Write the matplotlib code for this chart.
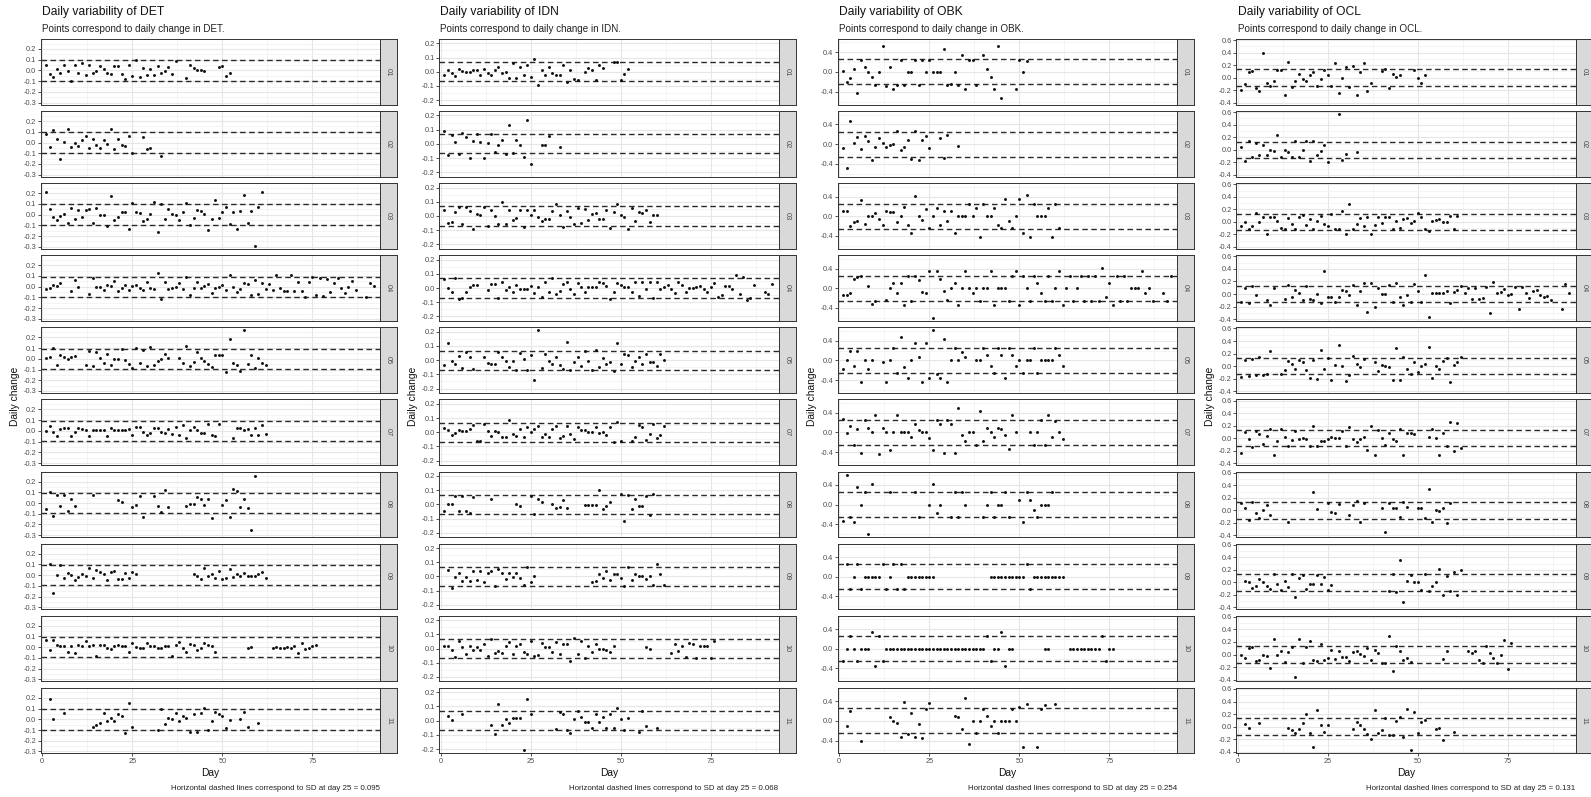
import numpy as np
import matplotlib
matplotlib.use("Agg")
import matplotlib.pyplot as plt

plt.rcParams['font.family'] = ['Liberation Sans', 'DejaVu Sans']

# sites (one facet column each) and the SD at day 25 used for the dashed lines
sites = ["DET", "IDN", "OBK", "OCL"]
sd_day25 = [0.095, 0.068, 0.254, 0.131]
subjects = ["01", "02", "03", "04", "05", "07", "08", "09", "10", "11"]

y_ticks = [
    [-0.3, -0.2, -0.1, 0.0, 0.1, 0.2],
    [-0.2, -0.1, 0.0, 0.1, 0.2],
    [-0.4, 0.0, 0.4],
    [-0.4, -0.2, 0.0, 0.2, 0.4, 0.6],
]
x_ticks = [0, 25, 50, 75]

# daily change, in hundredths
# each segment is "first_day: value value ..." for consecutive days
det_change = [
    "1: 5.5 -3 -6 1.5 -2 5 -0.5 -10 5 -2 6.5 -4.5 5.5 -2 -1 4.5 1.5 -2 -3.5 4.5 4 -3 -8 5.5 -5.5 10 -6 2 -4.5 1.5 -4.5 4 -2 -1 3 -3 9 | 40: -7.5 5 2 0 0 -0.5 | 49: 3 4 -5.5 -2",
    "1: 8 -4.5 12 3.5 -15 0.5 13 -4 0 -3 2.5 6.5 -5.5 3 -2 -5 2 -1 13 -6 3 -2.5 -3 6 -10 | 28: 5.5 -6 -5 | 33: -13",
    "1: 21 5.5 -2 -5 -1.5 1 -7.5 6 -4 4 -2 4 5 -8 6.5 0 0 -11 17 -5 -2 2 2 -13 11 2.5 1.5 -6 -4.5 1 11.5 -16 9.5 -4.5 5 1 0 -5 2.5 10.5 -10 -3.5 4 3 1 -14 -4 13.5 -3.5 2.5 7.5 -8.5 2 -13 3 18 -8 3.5 -29 7 21",
    "1: -2.5 -1 2 1 3.5 | 8: -4 6 0 | 13: -7 8 0 0 -3 2 0.5 5 -4 -1 1.5 -3.5 1 2 -1 -3.5 4.5 -1.5 -2 13 -11 4.5 -2.5 -1 -0.5 3 -2 9.5 -8 -1.5 4 -1 0.5 2.5 -5.5 -1 -0.5 1.5 -3.5 11 0 -5 -2.5 3 2.5 -7.5 6.5 -7 3 -2.5 2.5 -3 10.5 -1.5 -4 -4 10.5 -4 4.5 -4 -9.5 4.5 9 -8 8.5 -9 7 -5 3 8 -1.5 -6 0 5.5 -3 | 90: -10 3.5 0.5",
    "1: 0.5 1.5 10 -6 3.5 2 -0.5 2 2.5 | 12: -5.5 7 -7 6.5 1 -4 4.5 -5.5 0 -0.5 9 -1.5 -5 -8.5 10.5 -3.5 8 -6.5 11 -6 -2.5 -0.5 4.5 1 | 38: 0.5 -3.5 11.5 -7 -3 6 1 -2 -4.5 -7.5 4 3.5 4 -12.5 18.5 -4 -5.5 -11.5 26.5 -4.5 3.5 -8.5 0.5 -3.5 -6",
    "1: 0 5 -1 -4.5 1.5 3 3 -4.5 -1 3 2 1 -4.5 1 1 0.5 0.5 -5 3 0.5 1 1 1 1.5 -3.5 3.5 3.5 -1 -4 -2 2.5 3 -1 -1.5 1.5 -2.5 4 -4 5.5 -7 1 4 1 -2 -2 6 -3.5 -4.5 6.5 | 53: -6.5 3 3 0.5 1.5 -4 2.5 -3.5 5.5 -3",
    "1: -5.5 10 -12 7 -3 7 -7 3.5 -3 | 14: 7 | 21: 3 1 | 25: -4 -2 6.5 -13 | 31: 6.5 -2.5 -8 12.5 -3.5 | 40: -2.5 -0.5 -1 5.5 3.5 -2 4 -14 | 50: -2 2.5 -13.5 13 11 -3.5 3.5 -4.5 -25 25",
    "2: 10 -17 0.5 9.5 -3 1.5 0.5 -4.5 -2 1 -1 7 -3 4.5 2.5 1 -5 3 4 -4 -3.5 2 -2.5 3 1 | 42: 1 -0.5 -3.5 6.5 -1 1 -2.5 4 -3.5 -3 6 -1.5 1 -0.5 2 -0.5 -0.5 -0.5 1 2.5 -3",
    "1: 7 -3 6.5 2 1 1.5 -4 1 -5 2.5 1 6 1 2 -8 2.5 2 -1 -2 1 2 1 1 -4 3.5 0 -1 -1 3.5 1 1 -1 -0.5 1 1 -8 2 4.5 -0.5 -4 3 2 -2.5 -1 3.5 2.5 1 -4.5 | 57: -0.5 0 | 64: -1 0.5 -0.5 -0.5 0 -0.5 1.5 -5 3.5 -2 -0.5 1 2",
    "2: 19 0.5 | 6: 6 | 14: -7.5 -5 -3 5.5 -2 1 -2 4.5 3 -12.5 15 -7 | 32: -9.5 9.5 -4.5 1 0.5 6 -1.5 3.5 1 -11.5 5 -12 5.5 10.5 -10 -1.5 6.5 5 3.5 -8.5 -1 | 55: 0 6.5 -7 | 60: -3",
]

idn_change = [
    "1: -2.5 1.5 -1 -3 2 0.5 -0.5 -0.5 1.5 1.5 -2 2 -1 -2 1 3 -1 -0.5 -4.5 6 -4.5 3 -2 4.5 -4 9 -9 1.5 -2 3 -1 -2 -2 5 -7 1.5 -5 -6 | 40: 0 2.5 1 -6 4.5 2.5 | 48: 7 7 -6 -1.5 2",
    "1: 9 -8 6.5 1.5 -7 8 5 -10 2 7 1.5 -10 0.5 7 -5.5 -0.5 3 -7 13 -6.5 2.5 -1 -9 17 -14 | 28: -0.5 -1 5.5 | 33: -2",
    "1: 4 -5 -4 2.5 6.5 -6 6 3.5 -9.5 1.5 1 6.5 -7 4.5 0 -6 10 -5.5 4.5 -3 -1.5 4 -8 4.5 1 4.5 -0.5 -3.5 -2.5 -2.5 3.5 8.5 0.5 -8 3.5 -1 -6 5.5 -5 5 -3 1.5 2 -2 -2 4.5 -8.5 3 8.5 1 -1 -9.5 5.5 -3.5 2.5 2 4.5 -4 1 1",
    "1: 6.5 0 -2.5 7 -8 -7 -3 1 2 2.5 | 13: -1.5 3 3 -7 4.5 -1.5 0.5 -3 2.5 -0.5 -0.5 -1 1.5 -3.5 1 -6 4 -3 7 -4.5 -2 3 4 -1 -4.5 3.5 1 -3 1 1 0.5 4 3.5 1.5 -7.5 -2.5 3.5 2 0.5 0.5 -3 4.5 -5.5 4.5 -1 4.5 -7 4 -1 1 2 -1 -3.5 4.5 2.5 -2.5 0 0 1 1.5 -1 -2.5 0.5 3.5 -6 -5 1.5 1.5 -1 9 -4 7.5 -8.5 -7 2 | 90: -3 -4 3",
    "1: -3.5 12 -0.5 -3 3 -5.5 6 2.5 -6 | 12: 2.5 -2 -2.5 -2.5 5.5 2.5 -0.5 -4.5 -0.5 -7 5 1 -7 3.5 -14 21 -5.5 4.5 -0.5 -2.5 2 -3.5 -6.5 13 -7 -1 2.5 -4 6.5 -0.5 -7 7 -5 1.5 -2.5 -1 -8 12 -3 4 3.5 -5 -0.5 2 -3 4 -1.5 -1.5 -4 4 0",
    "1: 3 1.5 -2 -0.5 1.5 1 1 2.5 5 -6 -6 6 1 -2.5 1 0.5 -3 -3.5 8.5 -1 -2.5 2 -3.5 4 0 2.5 4.5 -3 -1 -3 2 4.5 -4 -2.5 4.5 -1 -5 3.5 1.5 1.5 0.5 0 4 -0.5 0 -2 4 -7 7 -6.5 | 53: -6.5 -3 5 4 -5.5 -1 6 -4 -2 4.5",
    "1: -4.5 0.5 0.5 6 -5 6 -4.5 -6 5 | 14: 3.5 | 21: 0.5 -1.5 | 25: 6 -7 4 1.5 | 31: 0 -2.5 -2 3 -2.5 | 40: -0.5 -0.5 -0.5 -0.5 10 -3 -1.5 2 | 50: 7 -12 6.5 -3.5 4 -1 -1 6 -7.5 7.5",
    "2: 4.5 -8 -0.5 2.5 -3 -0.5 -3.5 4 -2.5 4 -4 2.5 3.5 -7 5.5 2.5 -1.5 2.5 -0.5 2.5 -1 -6 6.5 -4 0 | 42: -4 -3.5 2 -1 3.5 -2.5 2 2 -1 -7 7 -2.5 2 0.5 0.5 -1.5 0 -6 9 2 -6",
    "1: 1.5 1.5 -1 -6 5.5 1 -3.5 2 -1 1 -1 3.5 -5 6.5 -3 -1.5 -3 2 4.5 -3.5 2 3 -2.5 -3.5 5 -5.5 -4.5 4 1 1 -2.5 4.5 -3.5 3 3.5 -9 7.5 -3.5 5 -6.5 1.5 -2.5 3.5 0 0 -1 -2.5 1.5 | 57: 1 -0.5 | 64: -3 3 -1.5 2 -6 4 3 -6.5 1.5 2 1.5 -6.5 5.5",
    "2: 3 0.5 | 6: 4.5 | 14: -3 -9.5 11.5 -3 1.5 -2 2 2 2 -21 15.5 5 | 32: -6 6 5 -6.5 -8.5 1.5 6.5 2.5 -1 -1 -5 4.5 -1 2.5 -5.5 4.5 -5.5 9 1.5 -6.5 2 | 55: -8 6.5 -3.5 | 60: -5",
]

obk_change = [
    "1: 3 -20 -13 7 -43 25 10 0 -10 -26 0 53 -28 10 -35 -26 25 -26 0 0 25 -26 25 0 25 0 0 0 47 -26 -24 0 -26 35 -35 25 25 -26 | 40: 35 7 -10 -35 53 -52 | 49: -35 25 0 23",
    "1: -8 -48 47 3 14 -10 16 6 -32 -6 12 2 -5 -2 1 26 -11 -5 9 -31 27 -33 8 16 -8 | 28: 12 -28 18 | 33: -4",
    "1: 10 11 -20 -12 -9 33 -15 0 0 7 -5 -17 10 9 8 -12 0 18 -17 -34 42 1 -7 14 -24 0 17 -17 10 -9 10 -35 0 0 0 25 0 17 -43 25 0 0 17 -17 -24 35 -9 -24 0 35 -35 43 -43 25 0 0 0 17 -43 25 -24",
    "1: -13 -13 -10 18 23 25 | 8: 4 -32 -26 | 13: -23 0 10 -10 10 -34 25 -26 25 17 -7 -10 36 -60 35 18 -5 -23 0 10 -34 0 35 0 -10 0 -26 0 0 35 -34 0 0 0 -26 25 35 -34 25 0 -26 25 10 -10 -26 25 -26 0 35 -34 0 25 -26 0 25 -26 25 -26 25 -26 42 -17 10 -34 25 -26 25 -26 0 0 0 35 -10 0 -26 | 90: -10 -26 25",
    "1: -18 0 19 -11 19 -43 0 -18 0 | 12: -4 -43 0 25 -26 47 -14 -35 0 35 7 -43 35 -35 61 -27 -35 43 -43 0 25 0 17 7 | 38: 0 0 25 11 -11 -26 25 11 -35 25 11 -11 0 -26 0 0 25 -26 0 0 0 0 25 11 -11",
    "1: 27 -2 14 -26 8 -41 25 10 0 35 -43 10 0 -35 0 36 0 0 0 -9 18 6 0 0 -12 -35 25 18 -41 25 18 -41 49 -5 -17 0 0 -26 43 -17 10 0 -9 10 8 -6 -34 35 0 | 53: 0 -26 0 25 -26 35 -9 23 0 -13",
    "1: -34 60 -26 -35 36 0 26 -60 42 | 14: 26 | 21: 25 -26 | 25: 0 42 -18 0 | 31: -26 25 -26 25 0 | 40: -26 0 25 -26 0 0 25 -26 | 50: 10 -35 25 10 -10 -26 0 0 0 25",
    "2: 25 -25 0 25 -25 0 0 0 0 0 25 -25 0 25 -25 25 -25 0 0 0 0 0 0 0 0 | 42: 0 0 0 0 0 0 0 0 0 0 25 -25 0 0 0 0 0 0 0 0 0",
    "1: -25 0 25 0 -25 0 0 0 35 -35 25 -25 0 0 0 0 0 0 0 0 0 0 0 0 0 0 0 0 0 0 0 0 0 0 0 0 0 0 0 0 25 -25 0 0 35 -35 0 0 | 57: 0 0 | 64: 0 0 0 0 0 0 0 0 0 25 -25 0 0",
    "2: -10 21 | 6: -40 | 14: 8 -1 -4 -33 38 -27 16 -32 -7 -35 25 36 | 32: 10 8 -17 47 -47 0 -25 0 25 10 -10 0 -25 0 0 0 25 0 28 -53 35 | 55: -53 25 33 | 60: 35",
]

ocl_change = [
    "1: -20 -10 9 10 -16 -21 40 -8 -14 -6 12 13 -28 25 -15 -5 6 -2 -6 4 9 -14 -2 12 5 -13 24 -24 0 17 -15 18 -27 9 24 -21 -9 | 40: 10 14 -16 6 1 5 | 49: 13 -1 -8 4",
    "1: 5 -18 14 -12 11 -9 8 -9 0 -2 24 -11 0 -3 -11 14 -12 -1 14 -18 14 -9 -2 8 -19 | 28: 57 -17 -7 | 33: -3",
    "1: -7 0 -11 -6 14 0 8 -19 8 8 2 -9 -12 7 -4 -11 8 11 -5 5 -11 1 9 -4 -7 12 -11 -12 17 -20 29 -12 -3 7 -7 8 -19 -5 8 -1 8 8 -12 1 -9 4 6 -2 2 14 8 -12 -15 1 3 4 0 0 10 -12 9",
    "1: -12 9 -15 13 -2 | 8: -10 -18 9 | 13: -8 14 -4 7 2 -10 12 -8 -10 0 -14 36 -5 -4 -13 -5 7 4 -1 14 -17 5 17 -28 18 -20 10 0 0 14 -12 17 -4 -17 -1 -12 16 5 -12 30 -37 1 2 2 1 4 -14 3 7 12 1 10 -8 9 -8 -6 11 -30 19 1 3 8 -1 0 11 -24 11 2 -7 5 6 -2 -4 -3 -10 | 90: -24 16 2",
    "1: -17 10 -16 12 -14 14 -14 -12 24 | 12: -13 -6 8 3 -5 10 7 -7 -19 9 -20 25 -4 13 -22 2 34 0 -24 -14 16 4 -1 12 | 38: 6 -8 1 0 -2 -22 29 -22 15 -4 -12 6 -9 0 3 30 -19 0 -4 8 13 -26 2 7 14",
    "1: -24 10 -1 -14 11 6 -10 3 15 -27 -5 15 2 -13 -3 12 -2 1 -1 -12 20 -12 -5 -4 -1 2 0 1 12 -13 18 -1 -6 -1 2 -19 20 -26 13 1 -11 9 -2 -4 15 -27 8 8 6 | 53: 2 15 1 -26 8 -13 26 -21 25 -16",
    "1: 12 3 -16 14 -4 -12 0 8 -8 | 14: -18 | 21: 29 2 | 25: 12 -3 -5 10 | 31: -8 9 15 -18 12 | 40: 3 -34 12 4 4 -11 14 5 | 50: 4 4 -12 34 -19 0 -1 4 -21 12",
    "2: 3 0 -9 -5 6 0 -5 -10 14 -3 -12 2 -8 14 -23 7 12 -11 -3 -3 12 -3 8 -12 -4 | 42: -13 14 -16 35 -32 2 12 0 0 -12 13 -13 -5 0 22 -20 10 -14 17 -20 20",
    "1: 0 -5 11 12 -11 -8 0 -3 -21 25 0 5 -12 4 12 -36 25 -13 12 22 -9 -10 17 -9 -6 7 -7 5 -4 -4 -11 4 6 1 -3 11 -9 7 2 -14 -14 29 -26 13 6 -8 -6 -12 | 57: -7 5 | 64: 5 2 6 -9 -14 13 2 -5 -13 0 23 -23 19",
    "2: 4 -3 | 6: 5 | 14: -2 -5 -11 -4 6 20 -11 -32 26 2 -9 2 | 32: -4 7 2 -4 -12 -20 26 -11 -6 14 -14 -14 9 15 -16 28 -38 23 -10 7 11 | 55: -4 -2 -22 | 60: -9",
]

all_change = [det_change, idn_change, obk_change, ocl_change]


def parse_series(text):
    days, values = [], []
    for segment in text.split("|"):
        start, rest = segment.split(":")
        for i, token in enumerate(rest.split()):
            days.append(int(start) + i)
            values.append(float(token) / 100)
    return np.array(days), np.array(values)


# layout in pixels of the 1591x797 picture
W, H = 1591, 797
col_left = [40.5, 439, 837.5, 1236]
panel_w, panel_h = 339.5, 65.5
strip_w = 17
row_top, row_step = 39, 72.1

fig = plt.figure(figsize=(W / 100, H / 100), dpi=100)


def add_px_axes(x, y, w, h):
    return fig.add_axes([x / W, 1 - (y + h) / H, w / W, h / H])


def fx(x):
    return x / W


def fy(y):
    return 1 - y / H


dark = "#333333"

for c, site in enumerate(sites):
    parsed = [parse_series(s) for s in all_change[c]]
    every = np.concatenate([v for _, v in parsed])
    lo, hi = every.min(), every.max()
    pad = 0.05 * (hi - lo)
    ylim = (lo - pad, hi + pad)

    ticks = y_ticks[c]
    step = ticks[1] - ticks[0]
    minor_y = [t + step / 2 for t in [ticks[0] - step] + ticks]
    minor_y = [m for m in minor_y if ylim[0] < m < ylim[1]]

    left = col_left[c]
    for r, (subject, (days, values)) in enumerate(zip(subjects, parsed)):
        top = row_top + r * row_step
        ax = add_px_axes(left, top, panel_w, panel_h)
        ax.set_xlim(-0.5, 93.8)
        ax.set_ylim(*ylim)
        ax.set_axisbelow(True)

        ax.set_xticks(x_ticks)
        ax.set_xticks([t + 12.5 for t in x_ticks], minor=True)
        ax.set_yticks(ticks)
        ax.set_yticks(minor_y, minor=True)
        ax.set_yticklabels([f"{t:.1f}" for t in ticks])
        ax.grid(which="major", color="#E6E6E6", lw=0.8)
        ax.grid(which="minor", color="#F0F0F0", lw=0.5)
        ax.tick_params(which="minor", length=0)
        ax.tick_params(which="major", length=2, width=0.6, color=dark,
                       labelsize=5.3, labelcolor="#4D4D4D", pad=1.2)

        if r == len(subjects) - 1:
            ax.set_xticklabels([str(t) for t in x_ticks])
        else:
            ax.tick_params(axis="x", which="major", length=0, labelbottom=False)

        for sp in ax.spines.values():
            sp.set_color(dark)
            sp.set_linewidth(0.7)

        sd = sd_day25[c]
        for level in (sd, -sd):
            ax.axhline(level, color="#2a2a2a", lw=1.0, dashes=(4, 2.5), zorder=2)

        ax.scatter(days, values, s=4.5, color="#111111", linewidths=0, zorder=3)

        # facet strip on the right
        sax = add_px_axes(left + panel_w, top, strip_w, panel_h)
        sax.set_facecolor("#D9D9D9")
        sax.set_xticks([])
        sax.set_yticks([])
        for sp in sax.spines.values():
            sp.set_color(dark)
            sp.set_linewidth(0.7)
        sax.text(0.5, 0.5, subject, rotation=270, ha="center", va="center",
                 fontsize=5.3, color="#4D4D4D", transform=sax.transAxes)

    # titles and labels of this column
    fig.text(fx(left + 1.5), fy(12.5), f"Daily variability of {site}",
             fontsize=8.7, ha="left", va="center", color="#111111")
    fig.text(fx(left + 1.5), fy(28.5), f"Points correspond to daily change in {site}.",
             fontsize=7.1, ha="left", va="center", color="#222222")
    fig.text(fx(left - 26), fy(row_top + (9 * row_step + panel_h) / 2), "Daily change",
             rotation=90, fontsize=7.4, ha="center", va="center", color="#111111")
    fig.text(fx(left + panel_w / 2), fy(773), "Day",
             fontsize=7.4, ha="center", va="center", color="#111111")
    fig.text(fx(left + panel_w), fy(788.5),
             f"Horizontal dashed lines correspond to SD at day 25 = {sd_day25[c]}",
             fontsize=5.7, ha="right", va="center", color="#222222")

fig.savefig("out.png", dpi=100)
